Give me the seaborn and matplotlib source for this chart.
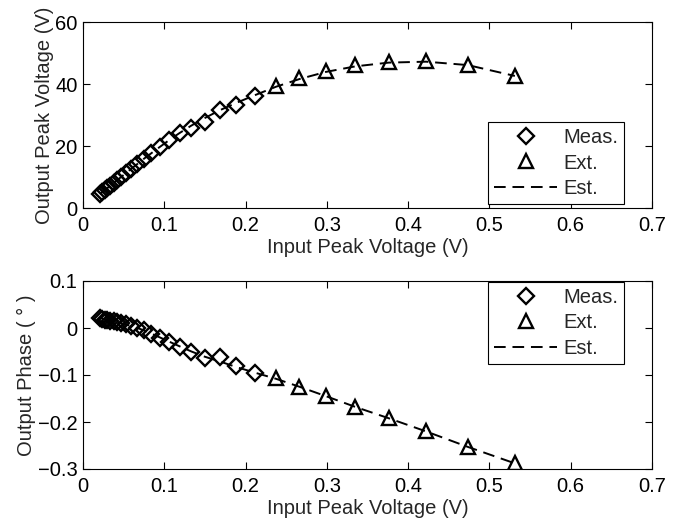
import matplotlib
matplotlib.use("Agg")
import matplotlib.pyplot as plt
import seaborn as sns
import pandas as pd

# ---- data ----
meas_x = [0.0211, 0.0237, 0.0266, 0.0299, 0.0335, 0.0376, 0.0422, 0.0473, 0.0531,
          0.0596, 0.0669, 0.0750, 0.0842, 0.0945, 0.1060, 0.1189, 0.1334, 0.1497,
          0.1680, 0.1885, 0.2115]
meas_amp = [4.5, 5.1, 5.7, 6.4, 7.2, 8.1, 9.0, 10.1, 11.3, 12.7, 14.2, 15.9, 17.9,
            19.8, 22.0, 24.2, 25.9, 27.6, 31.6, 33.3, 36.2]
meas_phase = [0.021, 0.019, 0.017, 0.016, 0.015, 0.014, 0.013, 0.011, 0.008, 0.005,
              0.001, -0.004, -0.012, -0.021, -0.030, -0.040, -0.050, -0.064, -0.062,
              -0.081, -0.095]

ext_x = [0.2373, 0.2663, 0.2988, 0.3352, 0.3761, 0.4220, 0.4735, 0.5313]
ext_amp = [39.2, 41.9, 44.2, 46.0, 47.1, 47.3, 46.1, 42.6]
ext_phase = [-0.106, -0.125, -0.145, -0.168, -0.191, -0.219, -0.253, -0.287]

est_x = meas_x + ext_x
est_amp = [4.5, 5.1, 5.7, 6.4, 7.2, 8.1, 9.0, 10.1, 11.3, 12.7, 14.2, 15.9, 17.7,
           19.7, 21.9, 24.2, 26.6, 29.0, 31.5, 33.9, 36.4,
           39.1, 41.6, 43.9, 45.7, 46.9, 47.2, 46.1, 42.6]
est_phase = [0.021, 0.020, 0.019, 0.017, 0.016, 0.014, 0.012, 0.010, 0.007, 0.004,
             0.000, -0.005, -0.012, -0.020, -0.029, -0.039, -0.050, -0.061, -0.071,
             -0.083, -0.095,
             -0.108, -0.125, -0.145, -0.168, -0.192, -0.220, -0.253, -0.288]

x_ticks = [0, 0.1, 0.2, 0.3, 0.4, 0.5, 0.6, 0.7]
x_ticklabels = ["0", "0.1", "0.2", "0.3", "0.4", "0.5", "0.6", "0.7"]
amp_ticks = [0, 20, 40, 60]
amp_ticklabels = ["0", "20", "40", "60"]
phase_ticks = [-0.3, -0.2, -0.1, 0, 0.1]
phase_ticklabels = ["\u22120.3", "\u22120.2", "\u22120.1", "0", "0.1"]

sns.set_style("ticks")
plt.rcParams['font.family'] = ['Liberation Sans', 'DejaVu Sans']

fig = plt.figure(figsize=(6.81, 5.27), dpi=100)
ax1 = fig.add_axes([83/681, 1-208/527, (652-83)/681, (208-22)/527])
ax2 = fig.add_axes([83/681, 1-469/527, (652-83)/681, (469-281)/527])

meas_df = pd.DataFrame({"x": meas_x, "amp": meas_amp, "phase": meas_phase})
ext_df = pd.DataFrame({"x": ext_x, "amp": ext_amp, "phase": ext_phase})
est_df = pd.DataFrame({"x": est_x, "amp": est_amp, "phase": est_phase})

fs = 14.5

for ax, col, yt, ytl, ylim, ylab, legloc, anchor in [
        (ax1, "amp", amp_ticks, amp_ticklabels, (0, 60), "Output Peak Voltage (V)",
         "lower right", (624/681, 1-204/527)),
        (ax2, "phase", phase_ticks, phase_ticklabels, (-0.3, 0.1), "Output Phase ( \u00b0 )",
         "upper right", (624/681, 1-282/527))]:
    sns.lineplot(data=est_df, x="x", y=col, ax=ax, color="black", linestyle=(0, (6, 3.5)),
                 linewidth=1.4, label="Est.", zorder=2, sort=False)
    sns.lineplot(data=meas_df, x="x", y=col, ax=ax, color="black", linestyle="",
                 marker="D", markersize=8.5, markerfacecolor="none",
                 markeredgecolor="black", markeredgewidth=1.7, label="Meas.", zorder=3, sort=False)
    sns.lineplot(data=ext_df, x="x", y=col, ax=ax, color="black", linestyle="",
                 marker="^", markersize=9.5, markerfacecolor="none",
                 markeredgecolor="black", markeredgewidth=1.7, label="Ext.", zorder=3, sort=False)
    ax.set_xlim(0, 0.7)
    ax.set_ylim(*ylim)
    ax.set_xticks(x_ticks)
    ax.set_xticklabels(x_ticklabels)
    ax.set_yticks(yt)
    ax.set_yticklabels(ytl)
    ax.tick_params(direction="in", top=True, right=True, length=5, width=0.8,
                   labelsize=fs, colors="black")
    ax.tick_params(axis="x", pad=6)
    ax.tick_params(axis="y", pad=4)
    for s in ax.spines.values():
        s.set_linewidth(0.8)
        s.set_color("black")
    ax.set_xlabel("Input Peak Voltage (V)", fontsize=fs, labelpad=2)
    ax.set_ylabel(ylab, fontsize=fs, labelpad=1)
    h, l = ax.get_legend_handles_labels()
    order = [l.index("Meas."), l.index("Ext."), l.index("Est.")]
    leg = ax.legend([h[i] for i in order], [l[i] for i in order], loc=legloc,
                    bbox_to_anchor=anchor, bbox_transform=fig.transFigure,
                    fontsize=fs, frameon=True, fancybox=False, framealpha=1,
                    edgecolor="black", handlelength=3.1, handletextpad=0.3,
                    borderpad=0.3, labelspacing=0.32, borderaxespad=0)
    leg.get_frame().set_linewidth(0.8)

fig.savefig("out.png", dpi=100)
